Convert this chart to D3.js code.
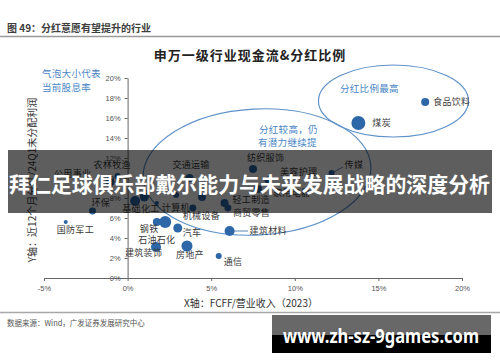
<!DOCTYPE html>
<html><head><meta charset="utf-8">
<script src="https://cdn.jsdelivr.net/npm/d3@7/dist/d3.min.js"></script>
<style>
html,body{margin:0;padding:0;background:#fff;}
svg{display:block;font-family:"Noto Sans CJK SC","Noto Sans",sans-serif;}
</style></head>
<body>
<svg id="chart" width="500" height="362"></svg>
<script>
// ---- data ----
const industries = ["食品饮料","煤炭","传媒","纺织服饰","美容护理","家用电器","交通运输","公用事业","农林牧渔","医药生物","基础化工","计算机","电子","机械设备","社会服务","轻工制造","商贸零售","国防军工","环保","钢铁","石油石化","汽车","建筑装饰","房地产","通信","建筑材料"];
const fcffRatio   = [17.8,13.8,12.2,7.5,8.4,7.8,3.7,-1.05,-0.6,0.45,1.0,1.75,2.9,3.9,4.45,5.8,6.0,-3.7,-2.1,1.75,2.25,3.0,1.7,3.55,5.45,6.1];
const payoutRatio = [17.6,15.5,10.5,10.9,9.8,8.9,10.0,9.6,10.2,7.7,8.1,7.5,8.3,7.0,8.1,7.5,7.0,5.6,6.7,5.6,5.6,5.0,3.1,3.2,2.2,4.7];
const dividendYield = [1.8,5.4,1.0,1.8,1.35,1.8,1.8,2.25,1.0,2.8,2.25,0.45,1.0,1.35,1.8,1.8,1.35,0.45,1.35,1.8,4.0,2.25,2.8,3.4,1.0,2.8];
const xTicks = [-5,0,5,10,15,20];
const yTicks = [0,2,4,6,8,10,12,14,16,18,20];

// ---- layout (label offsets relative to bubble centre, px) ----
const labelPos = {
 "食品饮料":[8,0],"煤炭":[14,0],"传媒":[13,-8],"纺织服饰":[-6,-11],"美容护理":[12,-8],
 "家用电器":[15,4],"交通运输":[-17,-13],"公用事业":[-56,-8],"农林牧渔":[-24,-11],
 "基础化工":[-22,12],"计算机":[5,5],"机械设备":[-10,8],"轻工制造":[8,-3],"商贸零售":[5,5],
 "国防军工":[-9,8],"环保":[-1,-8],"钢铁":[-17,7],"石油石化":[-27,18],"汽车":[5,5],
 "建筑装饰":[-31,6],"房地产":[-11,9],"通信":[5,6],"建筑材料":[20,0]
};

const svg = d3.select("#chart");
const x = d3.scaleLinear().domain([-5,20]).range([44,462]);
const y = d3.scaleLinear().domain([0,20]).range([278,78]);
const r = d3.scaleSqrt().domain([0,6]).range([0,3*Math.sqrt(6)]);

// header
svg.append("text").attr("x",7).attr("y",32).attr("font-size",10).attr("font-weight","bold")
  .attr("fill","#3d3d3d").text("图 49：分红意愿有望提升的行业");
svg.append("line").attr("x1",0).attr("x2",500).attr("y1",36.5).attr("y2",36.5)
  .attr("stroke","#9a9a9a").attr("stroke-width",1.5);

// title
svg.append("text").attr("x",250).attr("y",60).attr("text-anchor","middle").attr("font-size",13)
  .attr("font-weight","bold").attr("letter-spacing",1).attr("fill","#222").text("申万一级行业现金流&分红比例");

// legend note
const note = svg.append("text").attr("font-size",9.5).attr("fill","#4a86c5").attr("letter-spacing",0.3);
note.append("tspan").attr("x",42).attr("y",77).text("气泡大小代表");
note.append("tspan").attr("x",42).attr("y",91).text("当前股息率");

// axes
const gx = svg.append("g").attr("transform",`translate(0,${y(0)})`)
  .call(d3.axisBottom(x).tickValues(xTicks).tickFormat(d=>d+"%").tickSize(3).tickSizeOuter(0).tickPadding(5));
const gy = svg.append("g").attr("transform",`translate(${x(0)},0)`)
  .call(d3.axisLeft(y).tickValues(yTicks).tickFormat(d=>d+"%").tickSize(3).tickSizeOuter(0).tickPadding(4));
[gx,gy].forEach(g=>{
  g.selectAll("path,line").attr("stroke","#666");
  g.selectAll("text").attr("fill","#555").attr("font-size",7.5).attr("font-family","Liberation Sans, Arial, sans-serif");
});

// axis titles
svg.append("text").attr("x",251).attr("y",307).attr("text-anchor","middle").attr("font-size",10)
  .attr("fill","#333").text("X轴：FCFF/营业收入（2023）");
svg.append("text").attr("transform","translate(36,180) rotate(-90)").attr("text-anchor","middle")
  .attr("font-size",10).attr("fill","#333").text("Y轴：近12个月分红/24Q1未分配利润");

// ellipses
svg.append("ellipse").attr("cx",x(15.9)).attr("cy",y(17.7)).attr("rx",75).attr("ry",36)
  .attr("fill","none").attr("stroke","#5f92c9").attr("stroke-width",1.2);
svg.append("ellipse").attr("cx",0).attr("cy",0).attr("rx",114).attr("ry",63)
  .attr("transform",`translate(${x(7.74)},${y(10.6)}) rotate(-3)`)
  .attr("fill","none").attr("stroke","#5f92c9").attr("stroke-width",1.2);
svg.append("text").attr("x",340).attr("y",91.5).attr("font-size",9.5).attr("fill","#4a86c5")
  .attr("letter-spacing",0.3).text("分红比例最高");
const n2 = svg.append("text").attr("font-size",9.5).attr("fill","#4a86c5").attr("letter-spacing",0.3);
n2.append("tspan").attr("x",259).attr("y",133).text("分红较高，仍");
n2.append("tspan").attr("x",258).attr("y",146).text("有潜力继续提");

// bubbles
const data = industries.map((n,i)=>({name:n,fx:fcffRatio[i],py:payoutRatio[i],dy:dividendYield[i]}));
svg.append("g").selectAll("circle").data(data).join("circle")
  .attr("cx",d=>x(d.fx)).attr("cy",d=>y(d.py)).attr("r",d=>r(d.dy)).attr("fill","#2d67a8");

// leader lines
const leader = (name,x2,y2)=>{const d=data.find(e=>e.name===name);
  svg.append("line").attr("x1",x(d.fx)).attr("y1",y(d.py)).attr("x2",x2).attr("y2",y2)
   .attr("stroke","#2d67a8").attr("stroke-width",0.8);};
leader("传媒",343,167);
leader("建筑材料",248,231);

// labels
svg.append("g").selectAll("text").data(data.filter(d=>labelPos[d.name])).join("text")
  .attr("x",d=>x(d.fx)+labelPos[d.name][0]).attr("y",d=>y(d.py)+labelPos[d.name][1]+3.3)
  .attr("font-size",9).attr("letter-spacing",0.3).attr("fill","#3a3a3a").text(d=>d.name);

// footer
svg.append("line").attr("x1",0).attr("x2",500).attr("y1",312.5).attr("y2",312.5)
  .attr("stroke","#a8a8a8").attr("stroke-width",1.5);
svg.append("text").attr("x",7).attr("y",326).attr("font-size",7.5).attr("fill","#555")
  .text("数据来源：Wind，广发证券发展研究中心");

// overlay banner
svg.append("rect").attr("x",8).attr("y",150).attr("width",484).attr("height",63)
  .attr("fill","#000").attr("opacity",0.63);
svg.append("text").attr("x",9).attr("y",192).attr("font-size",21).attr("font-weight","bold")
  .attr("fill","#fff").attr("textLength",481).attr("lengthAdjust","spacingAndGlyphs")
  .text("拜仁足球俱乐部戴尔能力与未来发展战略的深度分析");

// watermark
svg.append("rect").attr("x",272).attr("y",315).attr("width",219).attr("height",20).attr("fill","#686868");
svg.append("rect").attr("x",272).attr("y",335).attr("width",219).attr("height",18).attr("fill","#000");
svg.append("text").attr("x",283).attr("y",343).attr("font-size",20).attr("font-weight","bold")
  .attr("font-family","Noto Sans, sans-serif").attr("fill","#fff")
  .attr("textLength",196).attr("lengthAdjust","spacingAndGlyphs").text("www.zh-sz-9games.com");
</script>
</body></html>
